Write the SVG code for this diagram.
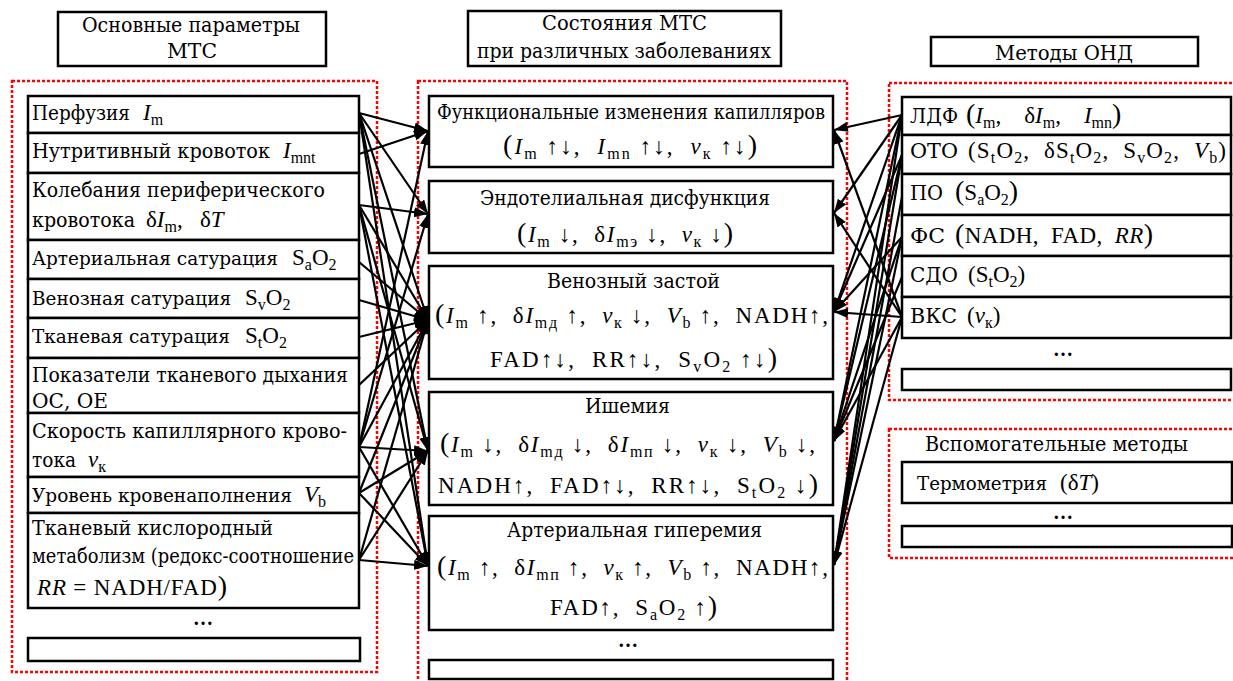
<svg xmlns="http://www.w3.org/2000/svg" width="1233" height="681" viewBox="0 0 1233 681">
<style>
text { font-family: "Liberation Serif", "DejaVu Serif", serif; font-size: 23px; fill: #000; }
.c { font-family: "DejaVu Serif", "Liberation Serif", serif; font-size: 20.5px; }
.n { font-size: 18.5px; }
.i { font-style: italic; }
.s { font-size: 16px; }
.p { font-size: 28px; }
.box { fill: #fff; stroke: #000; stroke-width: 2.5; }
.red { fill: none; stroke: #ff0000; stroke-width: 2.5; stroke-dasharray: 3 2; }
.dots { font-weight: bold; font-size: 20px; text-anchor: middle; }
#connectors line { stroke: #000; stroke-width: 2.2; marker-end: url(#arr); }
</style>
<defs>
<marker id="arr" markerUnits="userSpaceOnUse" markerWidth="15" markerHeight="11" refX="14" refY="5" orient="auto">
<path d="M0,0 L14,5 L0,10 z" fill="#000"/>
</marker>
</defs>
<rect width="1233" height="681" fill="#fff"/>

<rect class="red" x="12" y="81" width="365" height="591"/>
<rect class="red" x="418" y="81" width="429" height="620"/>
<rect class="red" x="889" y="83" width="360" height="317"/>
<rect class="red" x="889" y="429" width="360" height="129"/>

<g id="hdr-left">
<rect class="box" x="58" y="12" width="268" height="54"/>
<text class="c" x="82" y="32" textLength="218" lengthAdjust="spacingAndGlyphs">Основные параметры</text>
<text class="c" x="167" y="58" textLength="50" lengthAdjust="spacingAndGlyphs">МТС</text>
</g>
<g id="hdr-mid">
<rect class="box" x="468" y="11" width="313" height="55"/>
<text class="c" x="542" y="30" textLength="165" lengthAdjust="spacingAndGlyphs">Состояния МТС</text>
<text class="c" x="477" y="58" textLength="294" lengthAdjust="spacingAndGlyphs">при различных заболеваниях</text>
</g>
<g id="hdr-right">
<rect class="box" x="931" y="37" width="267" height="29"/>
<text class="c" x="995" y="60" textLength="138" lengthAdjust="spacingAndGlyphs">Методы ОНД</text>
</g>

<g id="connectors">
<line x1="359" y1="113" x2="428" y2="131"/>
<line x1="359" y1="113" x2="428" y2="214"/>
<line x1="359" y1="113" x2="428" y2="320"/>
<line x1="359" y1="113" x2="428" y2="451"/>
<line x1="359" y1="113" x2="428" y2="566"/>
<line x1="359" y1="154" x2="428" y2="131"/>
<line x1="359" y1="205" x2="428" y2="214"/>
<line x1="359" y1="205" x2="428" y2="320"/>
<line x1="359" y1="205" x2="428" y2="451"/>
<line x1="359" y1="205" x2="428" y2="566"/>
<line x1="359" y1="262" x2="428" y2="320"/>
<line x1="359" y1="300" x2="428" y2="320"/>
<line x1="359" y1="337" x2="428" y2="320"/>
<line x1="359" y1="385" x2="428" y2="320"/>
<line x1="359" y1="447" x2="428" y2="131"/>
<line x1="359" y1="447" x2="428" y2="214"/>
<line x1="359" y1="447" x2="428" y2="320"/>
<line x1="359" y1="447" x2="428" y2="451"/>
<line x1="359" y1="447" x2="428" y2="566"/>
<line x1="359" y1="493" x2="428" y2="320"/>
<line x1="359" y1="493" x2="428" y2="451"/>
<line x1="359" y1="493" x2="428" y2="566"/>
<line x1="359" y1="560" x2="428" y2="320"/>
<line x1="359" y1="560" x2="428" y2="451"/>
<line x1="359" y1="560" x2="428" y2="566"/>

<line x1="902" y1="115" x2="834" y2="130"/>
<line x1="902" y1="115" x2="834" y2="213"/>
<line x1="902" y1="115" x2="834" y2="312"/>
<line x1="902" y1="115" x2="834" y2="441"/>
<line x1="902" y1="115" x2="834" y2="565"/>
<line x1="902" y1="155" x2="834" y2="312"/>
<line x1="902" y1="155" x2="834" y2="441"/>
<line x1="902" y1="155" x2="834" y2="565"/>
<line x1="902" y1="197" x2="834" y2="565"/>
<line x1="902" y1="237" x2="834" y2="312"/>
<line x1="902" y1="237" x2="834" y2="441"/>
<line x1="902" y1="237" x2="834" y2="565"/>
<line x1="902" y1="277" x2="834" y2="441"/>
<line x1="902" y1="317" x2="834" y2="130"/>
<line x1="902" y1="317" x2="834" y2="213"/>
<line x1="902" y1="317" x2="834" y2="312"/>
<line x1="902" y1="317" x2="834" y2="441"/>
<line x1="902" y1="317" x2="834" y2="565"/>
</g>

<g id="l-perf">
<rect class="box" x="28" y="96" width="331" height="37"/>
<text class="c" x="32" y="120" textLength="98" lengthAdjust="spacingAndGlyphs">Перфузия</text>
<text x="143" y="120"><tspan class="i">I</tspan><tspan class="s" dy="5">m</tspan></text>
</g>
<g id="l-nutr">
<rect class="box" x="28" y="133" width="331" height="40"/>
<text class="c" x="32" y="158" textLength="238" lengthAdjust="spacingAndGlyphs">Нутритивный кровоток</text>
<text x="283" y="158"><tspan class="i">I</tspan><tspan class="s" dy="5">mnt</tspan></text>
</g>
<g id="l-osc">
<rect class="box" x="28" y="173" width="331" height="67"/>
<text class="c" x="32" y="197" textLength="293" lengthAdjust="spacingAndGlyphs">Колебания периферического</text>
<text class="c" x="32" y="227" textLength="103" lengthAdjust="spacingAndGlyphs">кровотока</text>
<text x="146" y="227">δ<tspan class="i">I</tspan><tspan class="s" dy="5">m</tspan><tspan dy="-5">,&#160;&#160; δ</tspan><tspan class="i">T</tspan></text>
</g>
<g id="l-art">
<rect class="box" x="28" y="240" width="331" height="39"/>
<text class="c n" x="32" y="265" textLength="246" lengthAdjust="spacingAndGlyphs">Артериальная сатурация</text>
<text x="292" y="265">S<tspan class="s" dy="5">a</tspan><tspan dy="-5">O</tspan><tspan class="s" dy="5">2</tspan></text>
</g>
<g id="l-ven">
<rect class="box" x="28" y="279" width="331" height="39"/>
<text class="c n" x="32" y="305" textLength="199" lengthAdjust="spacingAndGlyphs">Венозная сатурация</text>
<text x="245" y="305">S<tspan class="s" dy="5">v</tspan><tspan dy="-5">O</tspan><tspan class="s" dy="5">2</tspan></text>
</g>
<g id="l-tis">
<rect class="box" x="28" y="318" width="331" height="40"/>
<text class="c n" x="32" y="343" textLength="198" lengthAdjust="spacingAndGlyphs">Тканевая сатурация</text>
<text x="245" y="343">S<tspan class="s" dy="5">t</tspan><tspan dy="-5">O</tspan><tspan class="s" dy="5">2</tspan></text>
</g>
<g id="l-resp">
<rect class="box" x="28" y="358" width="331" height="55"/>
<text class="c" x="32" y="382" textLength="316" lengthAdjust="spacingAndGlyphs">Показатели тканевого дыхания</text>
<text class="c" x="32" y="408" textLength="76" lengthAdjust="spacingAndGlyphs">ОС, ОЕ</text>
</g>
<g id="l-vel">
<rect class="box" x="28" y="413" width="331" height="64"/>
<text class="c" x="32" y="438" textLength="315" lengthAdjust="spacingAndGlyphs">Скорость капиллярного крово-</text>
<text class="c" x="32" y="467" textLength="44" lengthAdjust="spacingAndGlyphs">тока</text>
<text x="88" y="467"><tspan class="i">v</tspan><tspan class="s" dy="5">к</tspan></text>
</g>
<g id="l-vb">
<rect class="box" x="28" y="477" width="331" height="36"/>
<text class="c n" x="32" y="502" textLength="260" lengthAdjust="spacingAndGlyphs">Уровень кровенаполнения</text>
<text x="304" y="502"><tspan class="i">V</tspan><tspan class="s" dy="5">b</tspan></text>
</g>
<g id="l-met">
<rect class="box" x="28" y="513" width="331" height="95"/>
<text class="c" x="32" y="535" textLength="241" lengthAdjust="spacingAndGlyphs">Тканевый кислородный</text>
<text class="c" x="32" y="563" textLength="322" lengthAdjust="spacingAndGlyphs">метаболизм (редокс-соотношение</text>
<text x="37" y="595" textLength="190" lengthAdjust="spacing"><tspan class="i">RR</tspan> = NADH/FAD<tspan class="p">)</tspan></text>
</g>
<g id="l-more">
<text class="dots" x="203" y="625">…</text>
<rect class="box" x="28" y="638" width="332" height="23"/>
</g>

<g id="m-func">
<rect class="box" x="429" y="96" width="404" height="71"/>
<text class="c" x="437" y="119" textLength="388" lengthAdjust="spacingAndGlyphs">Функциональные изменения капилляров</text>
<text x="503" y="154" textLength="254" lengthAdjust="spacing"><tspan class="p">(</tspan><tspan class="i">I</tspan><tspan class="s" dy="5">m</tspan><tspan dy="-5"> ↑↓,&#160;&#160;</tspan><tspan class="i">I</tspan><tspan class="s" dy="5">mn</tspan><tspan dy="-5"> ↑↓,&#160;&#160;</tspan><tspan class="i">v</tspan><tspan class="s" dy="5">к</tspan><tspan dy="-5"> ↑↓</tspan><tspan class="p">)</tspan></text>
</g>
<g id="m-endo">
<rect class="box" x="429" y="181" width="404" height="72"/>
<text class="c" x="480" y="205" textLength="290" lengthAdjust="spacingAndGlyphs">Эндотелиальная дисфункция</text>
<text x="517" y="242" textLength="216" lengthAdjust="spacing"><tspan class="p">(</tspan><tspan class="i">I</tspan><tspan class="s" dy="5">m</tspan><tspan dy="-5"> ↓,&#160;&#160;δ</tspan><tspan class="i">I</tspan><tspan class="s" dy="5">mэ</tspan><tspan dy="-5"> ↓,&#160;&#160;</tspan><tspan class="i">v</tspan><tspan class="s" dy="5">к</tspan><tspan dy="-5"> ↓</tspan><tspan class="p">)</tspan></text>
</g>
<g id="m-ven">
<rect class="box" x="429" y="266" width="404" height="113"/>
<text class="c" x="547" y="288" textLength="173" lengthAdjust="spacingAndGlyphs">Венозный застой</text>
<text x="435" y="323" textLength="393" lengthAdjust="spacing"><tspan class="p">(</tspan><tspan class="i">I</tspan><tspan class="s" dy="5">m</tspan><tspan dy="-5"> ↑,&#160;&#160;δ</tspan><tspan class="i">I</tspan><tspan class="s" dy="5">mд</tspan><tspan dy="-5"> ↑,&#160;&#160;</tspan><tspan class="i">v</tspan><tspan class="s" dy="5">к</tspan><tspan dy="-5"> ↓,&#160;&#160;</tspan><tspan class="i">V</tspan><tspan class="s" dy="5">b</tspan><tspan dy="-5"> ↑,&#160;&#160;NADH↑,</tspan></text>
<text x="490" y="367" textLength="287" lengthAdjust="spacing">FAD↑↓,&#160;&#160;RR↑↓,&#160; S<tspan class="s" dy="5">v</tspan><tspan dy="-5">O</tspan><tspan class="s" dy="5">2</tspan><tspan dy="-5"> ↑↓</tspan><tspan class="p">)</tspan></text>
</g>
<g id="m-isch">
<rect class="box" x="429" y="392" width="404" height="113"/>
<text class="c" x="585" y="413" textLength="85" lengthAdjust="spacingAndGlyphs">Ишемия</text>
<text x="440" y="452" textLength="375" lengthAdjust="spacing"><tspan class="p">(</tspan><tspan class="i">I</tspan><tspan class="s" dy="5">m</tspan><tspan dy="-5"> ↓,&#160;&#160;δ</tspan><tspan class="i">I</tspan><tspan class="s" dy="5">mд</tspan><tspan dy="-5"> ↓,&#160;&#160;δ</tspan><tspan class="i">I</tspan><tspan class="s" dy="5">mп</tspan><tspan dy="-5"> ↓,&#160;&#160;</tspan><tspan class="i">v</tspan><tspan class="s" dy="5">к</tspan><tspan dy="-5"> ↓,&#160;&#160;</tspan><tspan class="i">V</tspan><tspan class="s" dy="5">b</tspan><tspan dy="-5"> ↓,</tspan></text>
<text x="438" y="493" textLength="380" lengthAdjust="spacing">NADH↑,&#160;&#160;FAD↑↓,&#160;&#160;RR↑↓,&#160; S<tspan class="s" dy="5">t</tspan><tspan dy="-5">O</tspan><tspan class="s" dy="5">2</tspan><tspan dy="-5"> ↓</tspan><tspan class="p">)</tspan></text>
</g>
<g id="m-hyp">
<rect class="box" x="429" y="516" width="404" height="114"/>
<text class="c" x="507" y="537" textLength="255" lengthAdjust="spacingAndGlyphs">Артериальная гиперемия</text>
<text x="437" y="575" textLength="391" lengthAdjust="spacing"><tspan class="p">(</tspan><tspan class="i">I</tspan><tspan class="s" dy="5">m</tspan><tspan dy="-5"> ↑,&#160;&#160;δ</tspan><tspan class="i">I</tspan><tspan class="s" dy="5">mп</tspan><tspan dy="-5"> ↑,&#160;&#160;</tspan><tspan class="i">v</tspan><tspan class="s" dy="5">к</tspan><tspan dy="-5"> ↑,&#160;&#160;</tspan><tspan class="i">V</tspan><tspan class="s" dy="5">b</tspan><tspan dy="-5"> ↑,&#160;&#160;NADH↑,</tspan></text>
<text x="550" y="615" textLength="167" lengthAdjust="spacing">FAD↑,&#160; S<tspan class="s" dy="5">a</tspan><tspan dy="-5">O</tspan><tspan class="s" dy="5">2</tspan><tspan dy="-5"> ↑</tspan><tspan class="p">)</tspan></text>
</g>
<g id="m-more">
<text class="dots" x="628" y="647">…</text>
<rect class="box" x="429" y="660" width="404" height="19"/>
</g>

<g id="r-ldf">
<rect class="box" x="902" y="97" width="329" height="38"/>
<text class="c" x="910" y="123" textLength="48" lengthAdjust="spacingAndGlyphs">ЛДФ</text>
<text x="966" y="123"><tspan class="p">(</tspan><tspan class="i">I</tspan><tspan class="s" dy="5">m</tspan><tspan dy="-5">,&#160;&#160;&#160; δ</tspan><tspan class="i">I</tspan><tspan class="s" dy="5">m</tspan><tspan dy="-5">,&#160;&#160;&#160; </tspan><tspan class="i">I</tspan><tspan class="s" dy="5">mn</tspan><tspan dy="-5" class="p">)</tspan></text>
</g>
<g id="r-oto">
<rect class="box" x="902" y="135" width="329" height="39"/>
<text class="c" x="910" y="158" textLength="48" lengthAdjust="spacingAndGlyphs">ОТО</text>
<text x="968" y="158" textLength="258" lengthAdjust="spacing">(S<tspan class="s" dy="5">t</tspan><tspan dy="-5">O</tspan><tspan class="s" dy="5">2</tspan><tspan dy="-5">,&#160; δS</tspan><tspan class="s" dy="5">t</tspan><tspan dy="-5">O</tspan><tspan class="s" dy="5">2</tspan><tspan dy="-5">,&#160; S</tspan><tspan class="s" dy="5">v</tspan><tspan dy="-5">O</tspan><tspan class="s" dy="5">2</tspan><tspan dy="-5">,&#160; </tspan><tspan class="i">V</tspan><tspan class="s" dy="5">b</tspan><tspan dy="-5">)</tspan></text>
</g>
<g id="r-po">
<rect class="box" x="902" y="174" width="329" height="41"/>
<text class="c" x="910" y="200" textLength="33" lengthAdjust="spacingAndGlyphs">ПО</text>
<text x="955" y="200"><tspan class="p">(</tspan>S<tspan class="s" dy="5">a</tspan><tspan dy="-5">O</tspan><tspan class="s" dy="5">2</tspan><tspan dy="-5" class="p">)</tspan></text>
</g>
<g id="r-fs">
<rect class="box" x="902" y="215" width="329" height="41"/>
<text class="c" x="910" y="243" textLength="35" lengthAdjust="spacingAndGlyphs">ФС</text>
<text x="955" y="243" textLength="198" lengthAdjust="spacing"><tspan class="p">(</tspan>NADH,&#160; FAD,&#160; <tspan class="i">RR</tspan><tspan class="p">)</tspan></text>
</g>
<g id="r-sdo">
<rect class="box" x="902" y="256" width="329" height="41"/>
<text class="c" x="910" y="282" textLength="48" lengthAdjust="spacingAndGlyphs">СДО</text>
<text x="968" y="282">(S<tspan class="s" dy="5">t</tspan><tspan dy="-5">O</tspan><tspan class="s" dy="5">2</tspan><tspan dy="-5">)</tspan></text>
</g>
<g id="r-vks">
<rect class="box" x="902" y="297" width="329" height="41"/>
<text class="c" x="910" y="323" textLength="47" lengthAdjust="spacingAndGlyphs">ВКС</text>
<text x="967" y="323">(<tspan class="i">v</tspan><tspan class="s" dy="5">к</tspan><tspan dy="-5">)</tspan></text>
</g>
<g id="r-more">
<text class="dots" x="1063" y="356">…</text>
<rect class="box" x="902" y="369" width="329" height="21"/>
</g>

<g id="aux">
<text class="c" x="925" y="451" textLength="263" lengthAdjust="spacingAndGlyphs">Вспомогательные методы</text>
<rect class="box" x="902" y="462" width="330" height="41"/>
<text class="c n" x="917" y="490" textLength="130" lengthAdjust="spacingAndGlyphs">Термометрия</text>
<text x="1060" y="490">(δ<tspan class="i">T</tspan>)</text>
<text class="dots" x="1063" y="519">…</text>
<rect class="box" x="902" y="526" width="330" height="21"/>
</g>
</svg>
